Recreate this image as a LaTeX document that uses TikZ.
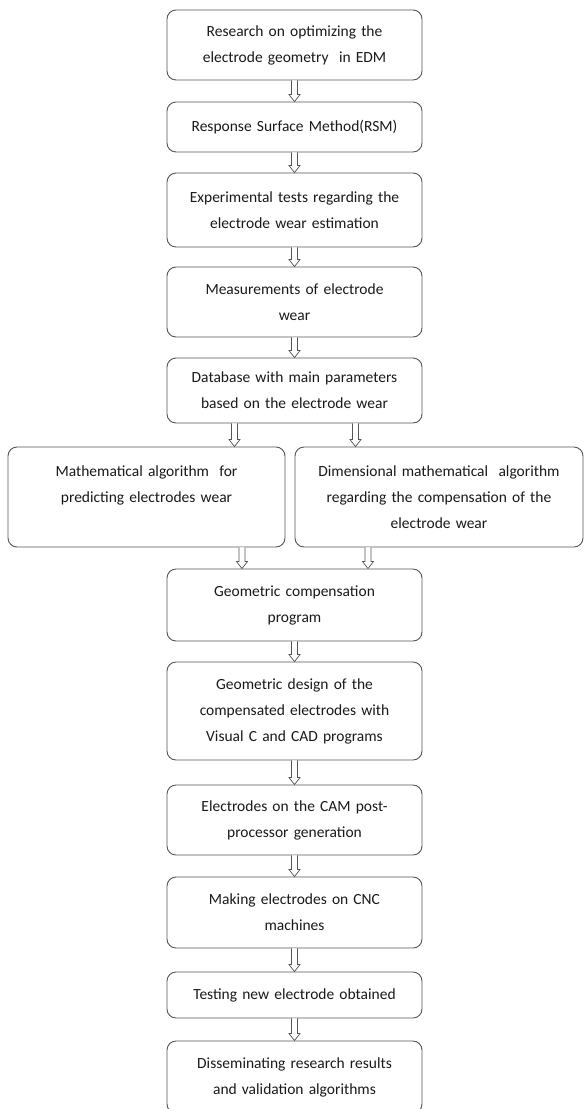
\documentclass[tikz,border=0pt]{standalone}
\usepackage{fontspec}
\setmainfont{Carlito}
\usetikzlibrary{calc}
\definecolor{boxline}{RGB}{85,85,85}
\definecolor{txt}{RGB}{25,25,25}
\tikzset{
  box/.style={draw=boxline, line width=0.9pt, rounded corners=9pt, align=center,
    inner sep=0pt, text=txt, font=\fontsize{15.5}{26}\selectfont},
  cbox/.style={box, minimum width=255pt, text width=250pt},
  harrow/.style={draw=boxline, line width=0.7pt, fill=white, to path={
    let \p1=(\tikztostart), \p2=(\tikztotarget) in
    (\x1-3pt,\y1) -- (\x1-3pt,\y2+7pt) -- (\x1-5.5pt,\y2+7pt) -- (\x1,\y2)
    -- (\x1+5.5pt,\y2+7pt) -- (\x1+3pt,\y2+7pt) -- (\x1+3pt,\y1) \tikztonodes}}
}
\begin{document}
\begin{tikzpicture}[x=1pt,y=-1pt]
\useasboundingbox (0,0) rectangle (584,1109);
\begin{scope}
\clip (0,0) rectangle (584,1109);
\node[cbox, minimum height=70pt] (b1) at (294.5,45) {Research on optimizing the\\electrode geometry\ \ in EDM};
\node[cbox, minimum height=50pt] (b2) at (294.5,127) {Response Surface Method(RSM)};
\node[cbox, minimum height=74pt] (b3) at (294.5,210) {Experimental tests regarding the\\electrode wear estimation};
\node[cbox, minimum height=70pt] (b4) at (294.5,302) {Measurements of electrode\\wear};
\node[cbox, minimum height=65pt] (db) at (294.5,390.5) {Database with main parameters\\based on the electrode wear};
\node[box, minimum width=277pt, text width=270pt, minimum height=100pt] (lb) at (146.5,497) {Mathematical algorithm\ \ for\\predicting electrodes wear\\\mbox{}};
\node[box, minimum width=288pt, text width=280pt, minimum height=100pt] (rb) at (439,497) {Dimensional mathematical\ \ algorithm\\regarding the compensation of the\\electrode wear};
\node[cbox, minimum height=72pt] (gc) at (294.5,605) {Geometric compensation\\program};
\node[cbox, minimum height=98pt] (gd) at (294.5,711) {Geometric design of the\\compensated electrodes with\\Visual C and CAD programs};
\node[cbox, minimum height=70pt] (cam) at (294.5,820) {Electrodes on the CAM post-\\processor generation};
\node[cbox, minimum height=71pt] (cnc) at (294.5,912.5) {Making electrodes on CNC\\machines};
\node[cbox, minimum height=46pt] (test) at (294.5,995) {Testing new electrode obtained};
\node[cbox, minimum height=72pt] (diss) at (294.5,1077) {Disseminating research results\\and validation algorithms};
\end{scope}
\path[harrow] (b1.south) to (b2.north);
\path[harrow] (b2.south) to (b3.north);
\path[harrow] (b3.south) to (b4.north);
\path[harrow] (b4.south) to (db.north);
\path[harrow] ([xshift=-60pt]db.south) to ([xshift=-60pt]db.south |- lb.north);
\path[harrow] ([xshift=61pt]db.south) to ([xshift=61pt]db.south |- rb.north);
\path[harrow] ([xshift=95.5pt]lb.south) to ([xshift=95.5pt]lb.south |- gc.north);
\path[harrow] ([xshift=-71pt]rb.south) to ([xshift=-71pt]rb.south |- gc.north);
\path[harrow] (gc.south) to (gd.north);
\path[harrow] (gd.south) to (cam.north);
\path[harrow] (cam.south) to (cnc.north);
\path[harrow] (cnc.south) to (test.north);
\path[harrow] (test.south) to (diss.north);
\end{tikzpicture}
\end{document}
